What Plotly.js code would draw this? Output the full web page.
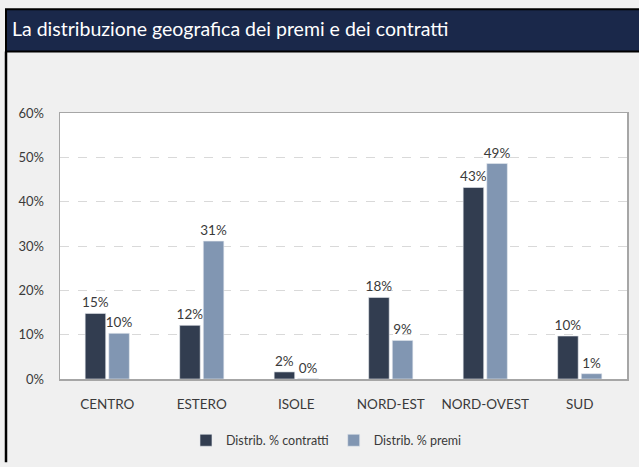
<!DOCTYPE html>
<html><head><meta charset="utf-8">
<script src="https://cdn.plot.ly/plotly-3.0.1.min.js"></script>
<style>html,body{margin:0;padding:0;background:#f0f0f0;}#chart{width:639px;height:467px;}</style>
</head><body><div id="chart"></div>
<script>
const categories = ['CENTRO','ESTERO','ISOLE','NORD-EST','NORD-OVEST','SUD'];
const contratti = [14.8, 12.1, 1.6, 18.4, 43.2, 9.7];
const premi = [10.3, 31.1, 0.1, 8.7, 48.6, 1.2];
const seriesNames = ['Distrib. % contratti','Distrib. % premi'];
const titleText = 'La distribuzione geografica dei premi e dei contratti';

const W = 639, H = 467, mL = 60, mR = 12, mT = 113, mB = 82;
const pw = W - mL - mR, ph = H - mT - mB;
const px = x => (x - mL) / pw;
const py = y => (H - mB - y) / ph;

const fontFam = 'Lato, "Open Sans", sans-serif';
const lbl = v => Math.round(v) + '%';

const traces = [
  {type:'bar', name:seriesNames[0], x:categories, y:contratti, text:contratti.map(lbl),
   textposition:'outside', constraintext:'none', cliponaxis:false, textfont:{size:13.5,color:'#3a3a3a',family:fontFam},
   marker:{color:'#323d50', line:{color:'#e8ebf0', width:0.6}}, hoverinfo:'x+y'},
  {type:'bar', name:seriesNames[1], x:categories, y:premi, text:premi.map(lbl),
   textposition:'outside', constraintext:'none', cliponaxis:false, textfont:{size:13.5,color:'#3a3a3a',family:fontFam},
   marker:{color:'#8196b2', line:{color:'#e8ebf0', width:0.6}}, hoverinfo:'x+y'}
];

const layout = {
  width:W, height:H,
  margin:{l:mL, r:mR, t:mT, b:mB},
  paper_bgcolor:'#f0f0f0', plot_bgcolor:'#ffffff',
  font:{family:fontFam, color:'#3a3a3a', size:12},
  title:{text:titleText, x:12/W, xanchor:'left', xref:'container', y:1-29/H, yanchor:'middle', yref:'container',
    font:{family:fontFam, size:19.5, color:'#ffffff'}},
  bargap:0.5, bargroupgap:0.13,
  showlegend:true,
  legend:{orientation:'h', x:0.47, xanchor:'center', y:py(448), yanchor:'middle',
    font:{size:12.5, color:'#3a3a3a', family:fontFam}, itemwidth:30, traceorder:'normal'},
  xaxis:{type:'category', showline:true, mirror:true, linecolor:'#a6a6a6', linewidth:1.5,
    ticks:'', ticklabelstandoff:12, tickfont:{size:13.5, color:'#3a3a3a'}, showgrid:false},
  yaxis:{range:[0,60], dtick:10, ticksuffix:'%', showline:true, mirror:true, linecolor:'#a6a6a6', linewidth:1.5,
    gridcolor:'#d9d9d9', griddash:'dash', zeroline:false, ticks:'', ticklabelstandoff:12,
    tickfont:{size:13, color:'#3a3a3a'}},
  shapes:[
    {type:'rect', xref:'paper', yref:'paper', x0:px(6), x1:px(641), y0:py(50), y1:py(7),
     fillcolor:'#1a284a', line:{color:'#000000', width:2}, layer:'above'},
    {type:'line', xref:'paper', yref:'paper', x0:px(6), x1:px(6), y0:py(50), y1:py(470),
     line:{color:'#000000', width:2.5}, layer:'above'}
  ]
};

Plotly.newPlot('chart', traces, layout, {displayModeBar:false, staticPlot:true});
</script></body></html>
